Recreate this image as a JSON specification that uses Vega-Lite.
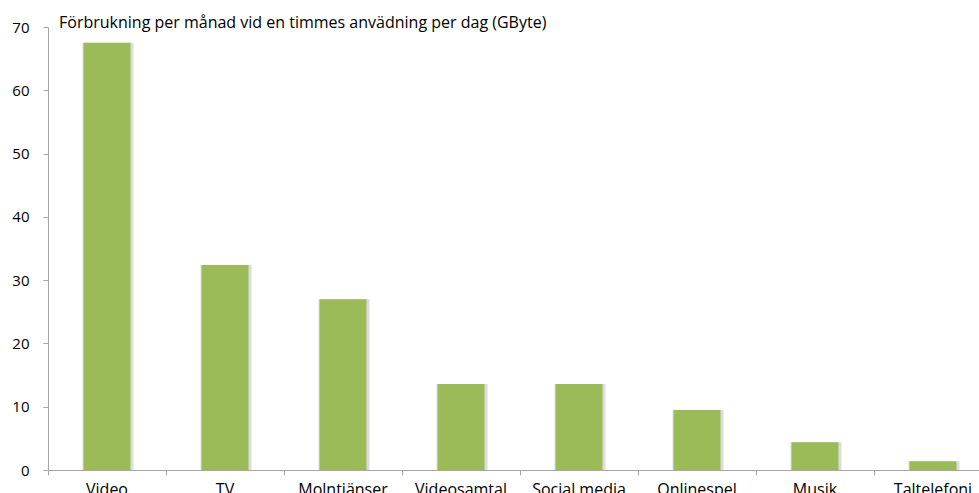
{
  "$schema": "https://vega.github.io/schema/vega-lite/v6.json",
  "autosize": {"type": "none"},
  "width": 931,
  "height": 443,
  "padding": {"left": 48, "top": 27, "right": 0, "bottom": 23},
  "background": "white",
  "title": {
    "text": "Förbrukning per månad vid en timmes anvädning per dag (GByte)",
    "anchor": "start",
    "frame": "group",
    "dx": 11,
    "offset": -24,
    "baseline": "alphabetic",
    "font": "Open Sans",
    "fontSize": 16,
    "fontWeight": "normal",
    "color": "black"
  },
  "data": {
    "values": [
      {"kategori": "Video", "GByte": 67.5},
      {"kategori": "TV", "GByte": 32.4},
      {"kategori": "Molntjänser", "GByte": 27.0},
      {"kategori": "Videosamtal", "GByte": 13.6},
      {"kategori": "Social media", "GByte": 13.6},
      {"kategori": "Onlinespel", "GByte": 9.5},
      {"kategori": "Musik", "GByte": 4.4},
      {"kategori": "Taltelefoni", "GByte": 1.4}
    ]
  },
  "encoding": {
    "x": {
      "field": "kategori",
      "type": "nominal",
      "sort": null,
      "scale": {"paddingInner": 0, "paddingOuter": 0, "range": [0, 944]},
      "axis": {
        "title": null,
        "bandPosition": 0,
        "labelAngle": 0,
        "tickSize": 5,
        "labelPadding": 6,
        "domainColor": "#a6a6a6",
        "tickColor": "#a6a6a6",
        "labelFont": "Open Sans",
        "labelFontSize": 16,
        "labelColor": "black",
        "grid": false
      }
    },
    "y": {
      "field": "GByte",
      "type": "quantitative",
      "scale": {"domain": [0, 70], "nice": false},
      "axis": {
        "title": null,
        "values": [0, 10, 20, 30, 40, 50, 60, 70],
        "tickSize": 5,
        "labelPadding": 14,
        "domainColor": "#a6a6a6",
        "tickColor": "#a6a6a6",
        "labelFont": "Open Sans",
        "labelFontSize": 15,
        "labelColor": "black",
        "grid": false
      }
    }
  },
  "layer": [
    {"mark": {"type": "bar", "size": 51, "xOffset": 1, "color": "#dcdcdc"}},
    {"mark": {"type": "bar", "size": 47, "color": "#9bbb59"}}
  ],
  "config": {"view": {"stroke": null}}
}
